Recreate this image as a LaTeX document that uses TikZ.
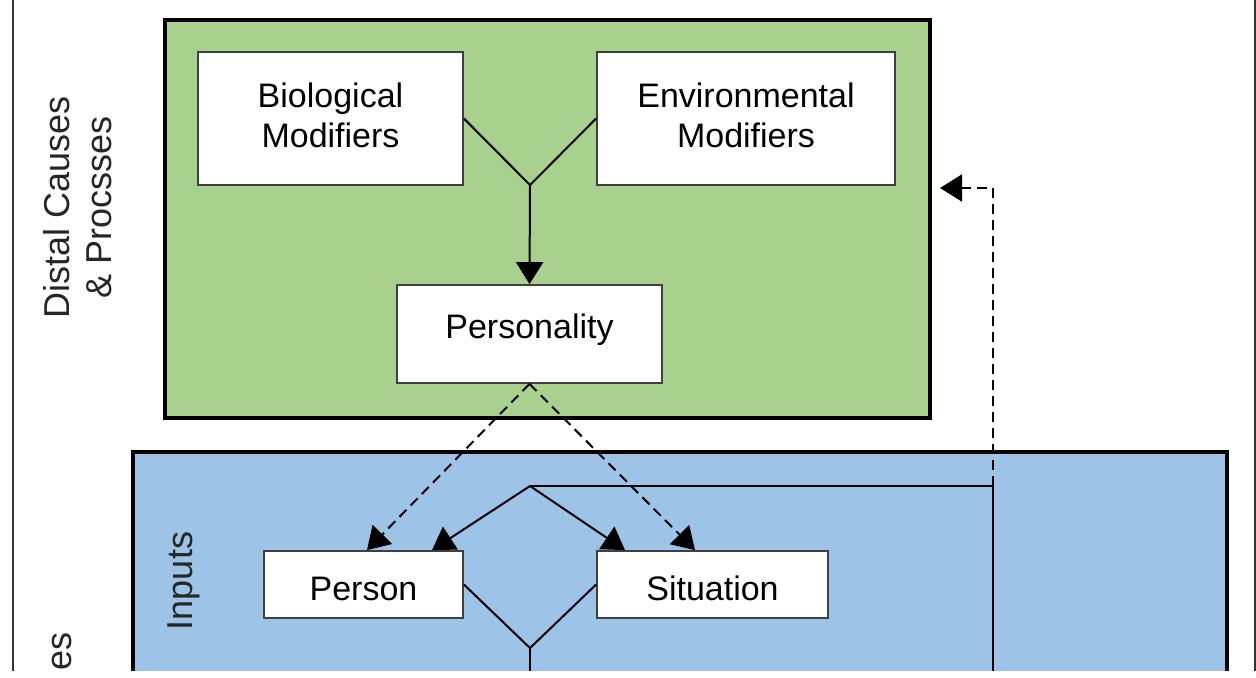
\documentclass[tikz,border=0pt]{standalone}
\usepackage{fontspec}
\setmainfont{Liberation Sans}
\usetikzlibrary{arrows.meta,calc}
\definecolor{dgreen}{HTML}{A9D18E}
\definecolor{dblue}{HTML}{9DC3E6}
\begin{document}
\begin{tikzpicture}[x=0.5pt,y=-0.5pt,
  box/.style={draw=black!75, line width=0.9pt, fill=white, align=center,
    font=\fontsize{17}{20}\selectfont, inner sep=0pt, text=black},
  container/.style={draw=black, line width=2pt, inner sep=0pt},
  sidelabel/.style={rotate=90, align=center, font=\fontsize{18}{21}\selectfont,
    inner sep=0pt, text=black!85},
  conn/.style={line width=1pt, draw=black},
  arr/.style={conn, -{Triangle[length=11pt,width=13.5pt]}},
  dashedarr/.style={arr, dash pattern=on 5pt off 3pt},
  dashedline/.style={conn, dash pattern=on 5pt off 3pt}
]
\useasboundingbox (0,0) rectangle (1256,677);
\clip (0,0) rectangle (1256,670);

% outer frame lines
\draw[line width=1pt, black!80] (13,0) -- (13,680);
\draw[line width=1pt, black!80] (1254.5,0) -- (1254.5,680);

% containers
\node[container, fill=dgreen, minimum width=382.5pt, minimum height=199pt] (distal) at (547.5,219) {};
\fill[dblue] (133,452) rectangle (1227,690);
\draw[line width=1.7pt] (133,690) -- (133,452) -- (1227,452) -- (1227,690);

% side labels
\node[sidelabel] (distlab) at (78,207) {Distal Causes\\\& Procsses};
\node[sidelabel] (inlab) at (184,581) {Inputs};
\node[sidelabel, anchor=base east] (eslab) at (71,632) {es};

% boxes
\node[box, minimum width=132.5pt, minimum height=66.5pt, text depth=3pt] (bio) at (330.5,118.5) {Biological\\Modifiers};
\node[box, minimum width=149pt, minimum height=66.5pt, text depth=3pt] (env) at (746,118.5) {Environmental\\Modifiers};
\node[box, minimum width=132.5pt, minimum height=49pt, text height=12pt, text depth=8pt] (pers) at (529.5,334) {Personality};
\node[box, minimum width=99.5pt, minimum height=33.5pt, text height=15.5pt, text depth=0pt] (person) at (363.5,584.5) {Person};
\node[box, minimum width=115.5pt, minimum height=33.5pt, text height=15.5pt, text depth=0pt] (sit) at (712.5,584.5) {Situation};

% junctions
\coordinate (j1) at (530,185);
\coordinate (j2) at (530,486);
\coordinate (fb) at (993,486);
\coordinate (fbturn) at (993,188);
\coordinate (fbtip) at (940,188);
\coordinate (j3) at (530,648);
\coordinate (bottomj) at (530,690);
\coordinate (bottomfb) at (993,690);

% top Y
\draw[conn] (bio.east) -- (j1) -- (env.west);
\draw[arr] (j1) -- (pers.north);

% dashed from personality
\draw[dashedarr] (pers.south) -- ($(person.north)+(3.5,0)$);
\draw[dashedarr] (pers.south) -- ($(sit.north)+(-17.5,0)$);

% feedback
\draw[conn] (bottomfb) -- (fb) -- (j2);
\draw[arr] (j2) -- ($(person.north)+(68.5,0)$);
\draw[arr] (j2) -- ($(sit.north)+(-87.5,0)$);
\draw[dashedarr] (fb) -- (fbturn) -- (fbtip);

% bottom Y
\draw[conn] (person.east) -- (j3) -- (sit.west);
\draw[conn] (j3) -- (bottomj);
\end{tikzpicture}
\end{document}
